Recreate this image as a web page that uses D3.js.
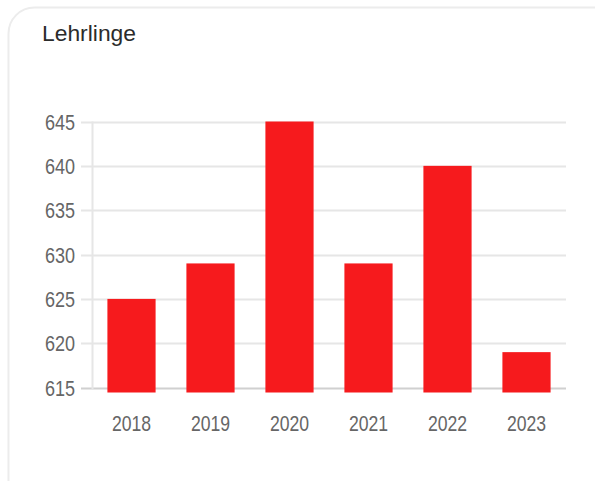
<!DOCTYPE html>
<html>
<head>
<meta charset="utf-8">
<script src="https://cdn.jsdelivr.net/npm/d3@7"></script>
<style>
  html, body { margin: 0; padding: 0; background: #fff; }
  svg { display: block; }
</style>
</head>
<body>
<div id="chart"></div>
<script>
// data
var years = ["2018", "2019", "2020", "2021", "2022", "2023"];
var lehrlinge = [625, 629, 645, 629, 640, 619];
var yTicks = [615, 620, 625, 630, 635, 640, 645];
var title = "Lehrlinge";

var width = 595, height = 481;

var svg = d3.select("#chart").append("svg")
    .attr("width", width)
    .attr("height", height);

// card border with rounded top-left corner
svg.append("rect")
    .attr("x", 8.5).attr("y", 7.5)
    .attr("width", 620).attr("height", 520)
    .attr("rx", 26)
    .attr("fill", "#fff")
    .attr("stroke", "#ececec")
    .attr("stroke-width", 2);

svg.append("text")
    .attr("x", 42).attr("y", 41)
    .attr("font-family", "'Liberation Sans', Arial, sans-serif")
    .attr("font-size", 22)
    .attr("fill", "#2b2b2b")
    .attr("textLength", 94)
    .attr("lengthAdjust", "spacingAndGlyphs")
    .text(title);

var x = d3.scaleBand()
    .domain(years)
    .range([92, 566])
    .paddingInner(0.39)
    .paddingOuter(0.195);

var y = d3.scaleLinear()
    .domain([614.45, 645])
    .range([392.5, 121.5]);

// gridlines
svg.append("g")
    .selectAll("line")
    .data(yTicks)
    .enter().append("line")
    .attr("x1", 81).attr("x2", 566)
    .attr("y1", function (d) { return Math.round(y(d)) + 0.5; })
    .attr("y2", function (d) { return Math.round(y(d)) + 0.5; })
    .attr("stroke", function (d) { return d === 615 ? "#d0d0d0" : "#e6e6e6"; })
    .attr("stroke-width", 2);

// y axis line
svg.append("line")
    .attr("x1", 92.5).attr("x2", 92.5)
    .attr("y1", y(645)).attr("y2", Math.round(y(615)) + 1)
    .attr("stroke", "#e6e6e6")
    .attr("stroke-width", 2);

// y tick labels (narrow look)
svg.append("g")
    .selectAll("text")
    .data(yTicks)
    .enter().append("text")
    .attr("transform", function (d) {
        return "translate(75," + (y(d) + 8) + ") scale(0.82,1)";
    })
    .attr("text-anchor", "end")
    .attr("font-family", "'Liberation Sans', Arial, sans-serif")
    .attr("font-size", 22)
    .attr("fill", "#666")
    .text(function (d) { return d; });

// bars
svg.append("g")
    .selectAll("rect")
    .data(lehrlinge)
    .enter().append("rect")
    .attr("x", function (d, i) { return x(years[i]); })
    .attr("width", x.bandwidth())
    .attr("y", function (d) { return y(d); })
    .attr("height", function (d) { return y.range()[0] - y(d); })
    .attr("fill", "#f61a1d");

// x labels
svg.append("g")
    .selectAll("text")
    .data(years)
    .enter().append("text")
    .attr("transform", function (d) {
        return "translate(" + (x(d) + x.bandwidth() / 2) + ",431) scale(0.8,1)";
    })
    .attr("text-anchor", "middle")
    .attr("font-family", "'Liberation Sans', Arial, sans-serif")
    .attr("font-size", 22)
    .attr("fill", "#666")
    .text(function (d) { return d; });
</script>
</body>
</html>
